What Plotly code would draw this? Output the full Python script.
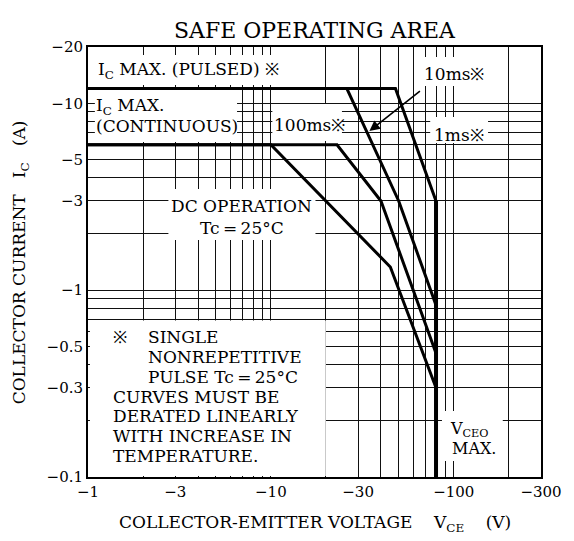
import math
import plotly.graph_objects as go

# ---------------- data ----------------
x_tick_vals = [1, 3, 10, 30, 100, 300]
x_tick_text = ["−1", "−3", "−10", "−30", "−100", "−300"]
y_tick_vals = [0.1, 0.3, 0.5, 1, 3, 5, 10, 20]
y_tick_text = ["−0.1", "−0.3", "−0.5", "−1", "−3", "−5", "−10", "−20"]

# |VCE| (V) and |IC| (A) for each boundary
dc_vce = [1, 10, 45, 80]
dc_ic = [6, 6, 1.33, 0.30]
ms100_vce = [1, 23, 40, 80]
ms100_ic = [6, 6, 3, 0.46]
ms10_vce = [26, 50, 80]
ms10_ic = [12, 3, 0.83]
ms1_vce = [1, 48, 80]
ms1_ic = [12, 12, 3]
vceo_vce = [80, 80]
vceo_ic = [3, 0.1]

x_grid = [2, 3, 4, 5, 6, 7, 8, 9, 10, 20, 30, 40, 50, 60, 70, 80, 90, 100, 200]
y_grid = [0.2, 0.3, 0.4, 0.5, 0.6, 0.7, 0.8, 0.9, 1, 2, 3, 4, 5, 6, 7, 8, 9, 10]

# ---------------- layout geometry ----------------
W, H = 574, 541
L, R, T, B = 88, 24, 47, 64
PW, PH = W - L - R, H - T - B
FONT = "DejaVu Serif"
XMAX = math.log10(300)
YMIN, YMAX = -1, math.log10(20)


def px(xp):
    return (xp - L) / PW


def py(yp):
    return (H - B - yp) / PH


def vx(xp):  # pixel -> data value on x (log)
    return 10 ** (px(xp) * XMAX)


def vy(yp):  # pixel -> data value on y (log)
    return 10 ** (YMIN + py(yp) * (YMAX - YMIN))


fig = go.Figure()
line_style = dict(color="black", width=3)
for name, xs, ys in [("DC", dc_vce, dc_ic), ("100ms", ms100_vce, ms100_ic),
                     ("10ms", ms10_vce, ms10_ic), ("1ms", ms1_vce, ms1_ic)]:
    fig.add_trace(go.Scatter(x=xs, y=ys, mode="lines", name=name,
                             line=line_style, showlegend=False, hoverinfo="skip"))
fig.add_trace(go.Scatter(x=vceo_vce, y=vceo_ic, mode="lines", name="VCEO",
                         line=dict(color="black", width=4), showlegend=False,
                         hoverinfo="skip"))

axis_common = dict(
    type="log", showline=True, linecolor="black", linewidth=2, mirror=True,
    showgrid=True, gridcolor="#111", gridwidth=1, ticks="", zeroline=False,
    tickfont=dict(family=FONT, size=15, color="black"),
)
fig.update_xaxes(**axis_common, range=[0, XMAX], tickmode="array",
                 tickvals=x_tick_vals, ticktext=x_tick_text,
                 minor=dict(tickmode="array", tickvals=x_grid, showgrid=True,
                            gridcolor="#111", gridwidth=1))
fig.update_yaxes(**axis_common, range=[YMIN, YMAX], tickmode="array",
                 tickvals=y_tick_vals, ticktext=y_tick_text,
                 minor=dict(tickmode="array", tickvals=y_grid, showgrid=True,
                            gridcolor="#111", gridwidth=1))

# white masks behind labels (between grid and curves)
masks = [
    (90, 290, 55, 85),     # IC max pulsed
    (95, 240, 89, 142),    # IC max continuous
    (276, 347, 104, 141),  # 100ms
    (428, 496, 57, 86),    # 10ms
    (437, 496, 117, 143),  # 1ms
    (170, 320, 189, 240),  # DC operation
    (90, 330.5, 320.5, 476),  # note
    (449, 511, 411, 461),  # VCEO max
]
for x0, x1, y0, y1 in masks:
    fig.add_shape(type="rect", xref="x", yref="y",
                  x0=vx(x0), x1=vx(x1), y0=vy(y1), y1=vy(y0),
                  fillcolor="white", line=dict(width=0), layer="between")


def label(text, xp, yp, anchor="left", size=17, **kw):
    fig.add_annotation(text=text, xref="paper", yref="paper", x=px(xp), y=py(yp),
                       xanchor=anchor, yanchor="middle", showarrow=False,
                       font=dict(family=FONT, size=size, color="black"), **kw)


label("SAFE OPERATING AREA", 319, 30, anchor="center", size=22)
label("I<sub>C</sub> MAX. (PULSED) ※", 96, 70)
label("I<sub>C</sub> MAX.", 94, 106)
label("(CONTINUOUS)", 94, 126)
label("100ms※", 276, 125)
label("10ms※", 429, 74)
label("1ms※", 439, 135)
label("DC OPERATION", 245, 206, anchor="center")
label("Tc\u2009=\u200925°C", 245, 228, anchor="center")
label("V<sub>CEO</sub>", 455, 429, size=16)
label("MAX.", 457, 448, size=16)

note = [
    (111, 337, "※"), (147, 337, "SINGLE"), (147, 357, "NONREPETITIVE"),
    (147, 377, "PULSE Tc\u2009=\u200925°C"), (111, 397, "CURVES MUST BE"),
    (111, 416, "DERATED LINEARLY"), (111, 436, "WITH INCREASE IN"),
    (111, 456, "TEMPERATURE."),
]
for xp, yp, t in note:
    label(t, xp, yp)

# arrow for 10ms
fig.add_annotation(text="", xref="paper", yref="paper", x=px(375), y=py(131),
                   ax=52, ay=-41, showarrow=True, arrowhead=2, arrowsize=1.3,
                   arrowwidth=1.6, arrowcolor="black")

# axis titles
label("COLLECTOR-EMITTER VOLTAGE\u00a0\u00a0\u00a0\u00a0V<sub>CE</sub>\u00a0\u00a0\u00a0\u00a0(V)",
      320, 523, anchor="center")
fig.add_annotation(text="COLLECTOR CURRENT\u00a0\u00a0\u00a0I<sub>C</sub>\u00a0\u00a0\u00a0(A)",
                   xref="paper", yref="paper", x=px(19), y=py(262), textangle=-90,
                   xanchor="center", yanchor="middle", showarrow=False,
                   font=dict(family=FONT, size=17, color="black"))

fig.update_layout(width=W, height=H, margin=dict(l=L, r=R, t=T, b=B),
                  paper_bgcolor="white", plot_bgcolor="white", showlegend=False)

fig.write_html("out.html", config={"displayModeBar": False},
               post_script="document.body.style.margin='0px';"
                           "document.body.style.padding='0px';")
